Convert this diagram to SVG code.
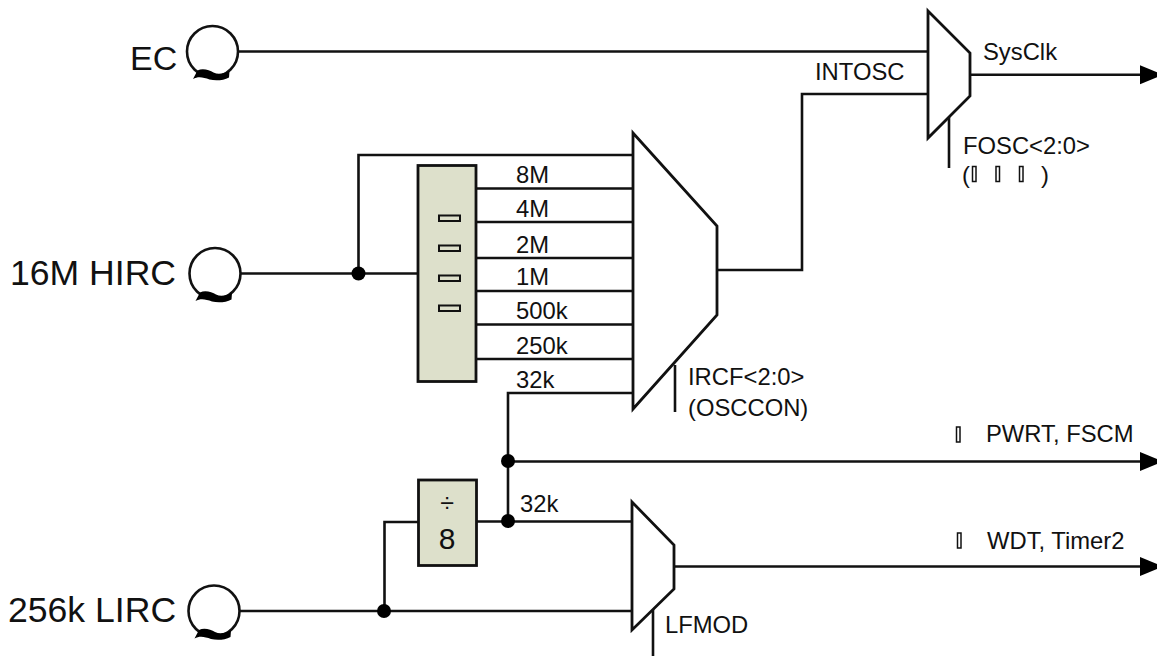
<svg xmlns="http://www.w3.org/2000/svg" xmlns:xlink="http://www.w3.org/1999/xlink" width="1157" height="656" viewBox="0 0 1157 656">
<style>
text{font-family:"Liberation Sans",Arial,sans-serif;fill:#111}
.big{font-size:35.6px}
.lb{font-size:23.8px}
.w{fill:none;stroke:#111;stroke-width:2.6}
.mux{fill:#fff;stroke:#111;stroke-width:2.8;stroke-linejoin:miter}
.box{fill:#dde0cb;stroke:#111;stroke-width:2.8}
.tick{fill:#dde0cb;stroke:#111;stroke-width:2}
.tofu{fill:#fff;stroke:#111;stroke-width:1.5}
.dot{fill:#000}
.osc{fill:#fff;stroke:#111;stroke-width:2.6}
.sq{fill:#000}
</style>
<defs>
<marker id="arr" markerUnits="userSpaceOnUse" markerWidth="26" markerHeight="24" refX="17" refY="12" orient="auto" overflow="visible"><path d="M0 2.500 L23 12 L0 21.500 Z" fill="#000"/></marker>
<g id="oscSym"><circle class="osc" r="25.5"/><path class="sq" d="M-19.5 27.5 L-15 19 C-10 16.500 -3 18.500 1 21 C6 23.500 11 22 17 19.500 L16.500 26 C11 29 3 29.500 -3 28 C-9 26 -14 24.500 -19.500 27.500 Z"/></g>
</defs>
<g id="connectors">
<path class="w" d="M238 51.5H928"/>
<path class="w" d="M717 270H802V94H928"/>
<path class="w" d="M970 74.7H1157" marker-end="url(#arr)"/>
<path class="w" d="M949 117V168"/>
<path class="w" d="M241 273.5H418"/>
<path class="w" d="M358.500 273.500V155H633"/>
<path class="w" d="M476 188.500H633M476 222H633M476 258H633M476 291H633M476 324.500H633M476 359H633"/>
<path class="w" d="M633 393H508V521"/>
<path class="w" d="M675 365V412"/>
<path class="w" d="M508 461.500H1157" marker-end="url(#arr)"/>
<path class="w" d="M476 521.500H632"/>
<path class="w" d="M240 611H632"/>
<path class="w" d="M418 522H384.500V611"/>
<path class="w" d="M674 566.500H1157" marker-end="url(#arr)"/>
<path class="w" d="M653 608V656"/>
<circle class="dot" cx="358.500" cy="273.500" r="7"/>
<circle class="dot" cx="508" cy="461" r="7"/>
<circle class="dot" cx="508" cy="521" r="7"/>
<circle class="dot" cx="384" cy="611" r="7"/>
</g>
<g id="ec"><text x="130" y="70" font-size="34">EC</text><use href="#oscSym" xlink:href="#oscSym" x="212.500" y="51.500"/></g>
<g id="hirc"><text class="big" x="10" y="285">16M HIRC</text><use href="#oscSym" xlink:href="#oscSym" x="215" y="273.500"/></g>
<g id="lirc"><text class="big" x="8" y="622">256k LIRC</text><use href="#oscSym" xlink:href="#oscSym" x="214" y="611"/></g>
<g id="sysmux"><path class="mux" d="M928 11L970 53V96L928 138Z"/>
<text class="lb" x="983" y="60">SysClk</text>
<text class="lb" x="815" y="80">INTOSC</text>
<text class="lb" x="963" y="154">FOSC&lt;2:0&gt;</text>
<text class="lb" x="962" y="183">(</text><text class="lb" x="1041" y="183">)</text>
<rect class="tofu" x="972.500" y="166.500" width="3.500" height="15"/><rect class="tofu" x="996" y="166.500" width="3.500" height="15"/><rect class="tofu" x="1019.500" y="166.500" width="3.500" height="15"/>
</g>
<g id="divider"><rect class="box" x="418" y="165.500" width="58" height="216"/>
<rect class="tick" x="439" y="215.500" width="21" height="5.500"/><rect class="tick" x="439" y="245.500" width="21" height="5.500"/><rect class="tick" x="439" y="275.500" width="21" height="5.500"/><rect class="tick" x="439" y="305.500" width="21" height="5.500"/>
</g>
<g id="ircfmux"><path class="mux" d="M633 133L717 226V315L633 409Z"/>
<text class="lb" x="516" y="183">8M</text><text class="lb" x="516" y="217">4M</text><text class="lb" x="516" y="253">2M</text><text class="lb" x="516" y="285">1M</text><text class="lb" x="516" y="319">500k</text><text class="lb" x="516" y="354">250k</text><text class="lb" x="516" y="388">32k</text>
<text class="lb" x="688" y="385">IRCF&lt;2:0&gt;</text><text class="lb" x="688" y="416">(OSCCON)</text>
</g>
<g id="div8"><rect class="box" x="418.500" y="480" width="58" height="85.500"/>
<text x="447" y="512" font-size="25" text-anchor="middle">÷</text><text x="447" y="549" font-size="30" text-anchor="middle">8</text></g>
<g id="lfmux"><path class="mux" d="M632 502L674 545V589L632 630Z"/>
<text class="lb" x="520" y="512">32k</text><text class="lb" x="665" y="633">LFMOD</text></g>
<g id="outs"><rect class="tofu" x="956.500" y="427" width="3.500" height="15"/><text class="lb" x="986" y="442">PWRT, FSCM</text>
<rect class="tofu" x="957.500" y="533" width="3.500" height="15"/><text class="lb" x="987" y="549">WDT, Timer2</text></g>
</svg>
